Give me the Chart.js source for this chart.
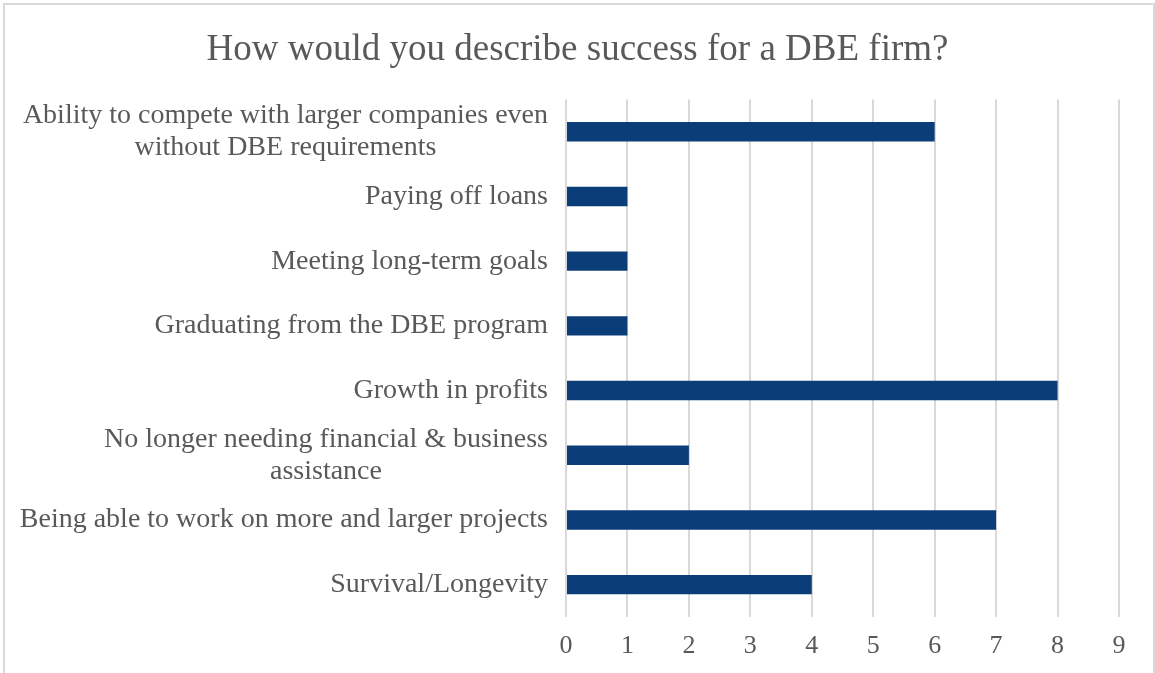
<!DOCTYPE html>
<html>
<head>
<meta charset="utf-8">
<script src="https://cdn.jsdelivr.net/npm/chart.js@4.4.1/dist/chart.umd.min.js"></script>
<style>
  html, body { margin: 0; padding: 0; background: #fff; }
  #wrap { position: relative; width: 1155px; height: 673px; }
</style>
</head>
<body>
<div id="wrap"><canvas id="grafExito"></canvas></div>
<script>
// categorias (de arriba hacia abajo), cada una partida en lineas
const categorias = [
  ["Ability to compete with larger companies even", "without DBE requirements"],
  ["Paying off loans"],
  ["Meeting long-term goals"],
  ["Graduating from the DBE program"],
  ["Growth in profits"],
  ["No longer needing financial & business", "assistance"],
  ["Being able to work on more and larger projects"],
  ["Survival/Longevity"]
];
const respuestas = [6, 1, 1, 1, 8, 2, 7, 4];
const ticksX = [0, 1, 2, 3, 4, 5, 6, 7, 8, 9];

const fuente = "'Liberation Serif', 'Times New Roman', serif";
const gris = "#595959";

// marco gris alrededor de todo el grafico
const marco = {
  id: "marco",
  beforeDraw(chart) {
    const c = chart.ctx;
    c.save();
    c.fillStyle = "#fff";
    c.fillRect(0, 0, chart.width, chart.height);
    c.strokeStyle = "#d9d9d9";
    c.lineWidth = 2;
    c.strokeRect(4, 4, chart.width - 5, chart.height + 10);
    c.restore();
  }
};

// etiquetas del eje Y: bloque alineado a la derecha, lineas centradas
const etiquetasY = {
  id: "etiquetasY",
  afterDraw(chart) {
    const c = chart.ctx;
    const y = chart.scales.y;
    c.save();
    c.font = "28px " + fuente;
    c.fillStyle = gris;
    c.textAlign = "center";
    c.textBaseline = "middle";
    const derecha = chart.chartArea.left - 18;
    const alto = 32;
    categorias.forEach((lineas, i) => {
      const yc = y.getPixelForTick(i);
      const ancho = Math.max(...lineas.map((l) => c.measureText(l).width));
      const xc = derecha - ancho / 2;
      const y0 = yc - ((lineas.length - 1) * alto) / 2;
      lineas.forEach((l, j) => c.fillText(l, xc, y0 + j * alto));
    });
    c.restore();
  }
};

const ctx = document.getElementById("grafExito");
window.grafExito = new Chart(ctx, {
  type: "bar",
  data: {
    labels: categorias.map((l) => l.join(" ")),
    datasets: [
      {
        label: "Respuestas",
        data: respuestas,
        backgroundColor: "#0b3e78",
        borderWidth: 0,
        barPercentage: 0.6,
        categoryPercentage: 0.5,
      },
    ],
  },
  options: {
    indexAxis: "y",
    responsive: true,
    maintainAspectRatio: false,
    animation: false,
    layout: { padding: { top: 0, right: 36, bottom: 0, left: 36 } },
    plugins: {
      legend: { display: false },
      tooltip: { enabled: false },
      title: {
        display: true,
        text: "How would you describe success for a DBE firm?",
        color: gris,
        font: { family: fuente, size: 37, weight: "normal" },
        padding: { top: 28, bottom: 27 },
      },
    },
    scales: {
      x: {
        min: 0,
        max: 9,
        afterBuildTicks: (s) => { s.ticks = ticksX.map((v) => ({ value: v })); },
        afterFit: (s) => { s.height = 56; },
        grid: { color: "#d9d9d9", lineWidth: 2, drawTicks: false },
        border: { display: false },
        ticks: {
          color: gris,
          padding: 14,
          font: { family: fuente, size: 26 },
        },
      },
      y: {
        grid: { display: false },
        border: { display: false },
        ticks: { display: false },
        afterFit: (s) => { s.width = 530; },
      },
    },
  },
  plugins: [marco, etiquetasY],
});
</script>
</body>
</html>
